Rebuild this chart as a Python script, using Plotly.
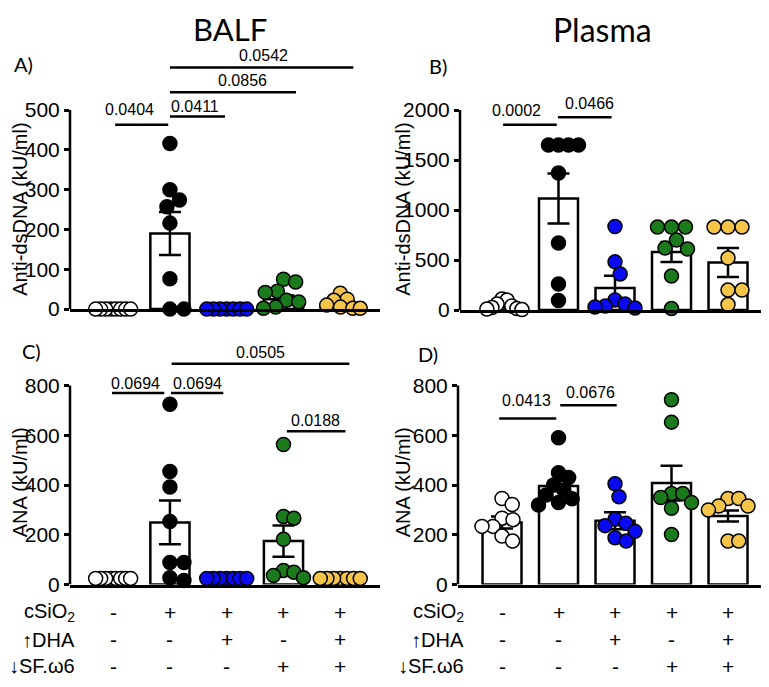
import plotly.graph_objects as go

# ---------------- data ----------------
groups = ["ctrl", "cSiO2", "cSiO2+DHA", "cSiO2+SF", "cSiO2+DHA+SF"]
row_csio2 = ["-", "+", "+", "+", "+"]
row_dha = ["-", "-", "+", "-", "+"]
row_sf = ["-", "-", "-", "+", "+"]
row_labels = ["cSiO<sub>2</sub>", "↑DHA", "↓SF.ω6"]

# Panel A: BALF anti-dsDNA (kU/ml)
balf_dsdna_pts = [
    [0, 0, 0, 0, 0, 0, 0, 0],
    [416, 300, 274, 257, 216, 76, 0, 0],
    [0, 0, 0, 0, 0, 0, 0],
    [75, 68, 45, 42, 22, 18, 5, 2],
    [40, 25, 22, 10, 5, 2, 2],
]
balf_dsdna_mean = [0, 190, 0, 25, 12]
balf_dsdna_sem = [0, 54, 0, 9, 6]

# Panel B: Plasma anti-dsDNA (kU/ml)
plasma_dsdna_pts = [
    [110, 100, 60, 40, 25, 15, 10, 5],
    [1650, 1650, 1650, 1650, 1370, 670, 260, 95],
    [836, 482, 361, 100, 60, 40, 30, 20],
    [830, 830, 830, 700, 620, 610, 340, 15],
    [830, 830, 830, 520, 200, 200, 55],
]
plasma_dsdna_mean = [42, 1115, 220, 580, 475]
plasma_dsdna_sem = [15, 250, 124, 100, 145]

# Panel C: BALF ANA (kU/ml)
balf_ana_pts = [
    [25, 25, 25, 25, 25, 25, 25, 25],
    [725, 455, 392, 254, 89, 89, 28, 17],
    [25, 25, 25, 25, 25, 25, 25],
    [563, 274, 267, 182, 57, 50, 37, 28],
    [25, 25, 25, 25, 25, 25, 25],
]
balf_ana_mean = [25, 250, 25, 175, 25]
balf_ana_sem = [0, 88, 0, 63, 0]

# Panel D: Plasma ANA (kU/ml)
plasma_ana_pts = [
    [346, 322, 267, 261, 234, 234, 195, 175],
    [590, 450, 430, 400, 380, 360, 345, 330, 320],
    [405, 353, 263, 247, 237, 214, 188, 175],
    [743, 653, 366, 366, 350, 330, 307, 201],
    [346, 346, 316, 316, 300, 175, 175],
]
plasma_ana_mean = [250, 396, 257, 408, 276]
plasma_ana_sem = [24, 20, 34, 70, 22]

# significance brackets: (label, x0, x1, y_line, x_text, y_text)
sig_a = [("0.0404", 0.035, 0.97, 463, 0.28, 502),
         ("0.0411", 1.0, 1.97, 484, 1.44, 509),
         ("0.0856", 1.0, 3.22, 545, 2.27, 574),
         ("0.0542", 1.0, 4.23, 607, 2.64, 638)]
sig_b = [("0.0002", 0.02, 0.97, 1852, 0.25, 2000),
         ("0.0466", 0.99, 1.94, 1928, 1.54, 2066)]
sig_c = [("0.0694", -0.02, 0.90, 770, 0.39, 807),
         ("0.0694", 1.02, 1.94, 770, 1.48, 807),
         ("0.0505", 1.03, 4.16, 888, 2.59, 932),
         ("0.0188", 3.06, 4.09, 616, 3.56, 659)]
sig_d = [("0.0413", -0.05, 0.96, 668, 0.44, 738),
         ("0.0676", 1.03, 2.03, 721, 1.56, 774)]

# ---------------- style / layout ----------------
W, H = 769, 687
OFF = 8  # page offset of the figure inside the browser body
FONT = "Liberation Sans, Arial, sans-serif"
TFONT = "Lato, Open Sans, sans-serif"
fills = ["white", "#000000", "#0a0af0", "#1b7a1b", "#f5c54a"]


def PX(x):
    return (x - OFF) / W


def PY(y):
    return 1 - (y - OFF) / H


panels = [
    dict(pts=balf_dsdna_pts, mean=balf_dsdna_mean, sem=balf_dsdna_sem, sig=sig_a,
         xd=(70, 380), xr=(-0.76, 4.70), y0px=314, ppu=202.3 / 500, ymax=500, R=700,
         ticks=[0, 100, 200, 300, 400, 500], title="Anti-dsDNA (kU/ml)",
         tx=20, ty=213, lab="A)", lx=23, ly=65),
    dict(pts=plasma_dsdna_pts, mean=plasma_dsdna_mean, sem=plasma_dsdna_sem, sig=sig_b,
         xd=(460, 767), xr=(-0.743, 4.69), y0px=315, ppu=203.3 / 2000, ymax=2000, R=2800,
         ticks=[0, 500, 1000, 1500, 2000], title="Anti-dsDNA (kU/ml)",
         tx=403, ty=213, lab="B)", lx=438, ly=67),
    dict(pts=balf_ana_pts, mean=balf_ana_mean, sem=balf_ana_sem, sig=sig_c,
         xd=(70, 380), xr=(-0.76, 4.70), y0px=594, ppu=202.3 / 800, ymax=800, R=1000,
         ticks=[0, 200, 400, 600, 800], title="ANA (kU/ml)",
         tx=20, ty=490, lab="C)", lx=31, ly=357),
    dict(pts=plasma_ana_pts, mean=plasma_ana_mean, sem=plasma_ana_sem, sig=sig_d,
         xd=(458, 767), xr=(-0.779, 4.69), y0px=594, ppu=202.3 / 800, ymax=800, R=1000,
         ticks=[0, 200, 400, 600, 800], title="ANA (kU/ml)",
         tx=403, ty=490, lab="D)", lx=428, ly=360),
]

MARK_D = 14.0


def swarm(vals, ppu_y, ppu_x, maxhalf=19.0):
    placed, offs = [], []
    for v in vals:
        y = v * ppu_y
        chosen = None
        k = 0
        while chosen is None:
            cands = [0.0] if k == 0 else [k * 0.5, -k * 0.5]
            for dx in cands:
                if all((dx - px) ** 2 + (y - py) ** 2 >= MARK_D ** 2 for px, py in placed):
                    chosen = dx
                    break
            k += 1
        placed.append((chosen, y))
        offs.append(chosen)
    m = max(abs(o) for o in offs)
    if m > maxhalf:
        offs = [o * maxhalf / m for o in offs]
    if len(set(vals)) == 1:
        c = (max(offs) + min(offs)) / 2
        offs = [o - c for o in offs]
    return [o / ppu_x for o in offs]


fig = go.Figure()
shapes, annotations = [], []
layout_axes = {}

for i, p in enumerate(panels):
    n = "" if i == 0 else str(i + 1)
    xa, ya = "x" + n, "y" + n
    xdom = [PX(p["xd"][0]), min(1.0, PX(p["xd"][1]))]
    top_px = p["y0px"] - p["R"] * p["ppu"]
    ydom = [PY(p["y0px"]), PY(top_px)]
    ppu_x = (p["xd"][1] - p["xd"][0]) / (p["xr"][1] - p["xr"][0])

    layout_axes["xaxis" + n] = dict(domain=xdom, range=list(p["xr"]), anchor=ya,
                                    showline=True, linecolor="black", linewidth=2.5,
                                    showticklabels=False, ticks="", showgrid=False,
                                    zeroline=False, fixedrange=True)
    layout_axes["yaxis" + n] = dict(domain=ydom, range=[0, p["R"]], anchor=xa,
                                    showline=False, ticks="outside", ticklen=5,
                                    tickwidth=2.5, tickcolor="black", tickvals=p["ticks"],
                                    ticktext=[str(t) for t in p["ticks"]],
                                    tickfont=dict(family=FONT, size=21, color="black"),
                                    showgrid=False, zeroline=False, fixedrange=True)

    fig.add_trace(go.Bar(x=list(range(5)), y=p["mean"], width=0.69, xaxis=xa, yaxis=ya,
                         marker=dict(color="white", line=dict(color="black", width=2.5)),
                         error_y=dict(type="data", array=p["sem"], symmetric=True,
                                      color="black", thickness=2.5, width=11),
                         cliponaxis=False, hoverinfo="skip"))

    for g in range(5):
        vals = p["pts"][g]
        offs = swarm(vals, p["ppu"], ppu_x, maxhalf=20.0)
        fig.add_trace(go.Scatter(x=[g + o for o in offs], y=vals, mode="markers",
                                 xaxis=xa, yaxis=ya, cliponaxis=False,
                                 marker=dict(size=MARK_D, color=fills[g],
                                             line=dict(color="black", width=1.5))))

    # y-axis line from 0 to last tick
    shapes.append(dict(type="line", xref=xa + " domain", yref=ya, x0=0, x1=0,
                       y0=0, y1=p["ymax"], line=dict(color="black", width=2.5)))

    for lab, x0, x1, yl, xt, yt in p["sig"]:
        shapes.append(dict(type="line", xref=xa, yref=ya, x0=x0, x1=x1, y0=yl, y1=yl,
                           line=dict(color="black", width=2.5)))
        annotations.append(dict(text=lab, xref=xa, yref=ya, x=xt, y=yt, showarrow=False,
                                font=dict(family=FONT, size=16, color="black"),
                                xanchor="center", yanchor="middle"))

    annotations.append(dict(text=p["title"], xref="paper", yref="paper",
                            x=PX(p["tx"]), y=PY(p["ty"]), textangle=-90,
                            showarrow=False, xanchor="center", yanchor="middle",
                            font=dict(family=FONT, size=20, color="black")))
    annotations.append(dict(text=p["lab"], xref="paper", yref="paper",
                            x=PX(p["lx"]), y=PY(p["ly"]), showarrow=False,
                            xanchor="center", yanchor="middle",
                            font=dict(family=TFONT, size=20, color="black")))

# column titles
annotations.append(dict(text="BALF", xref="paper", yref="paper", x=PX(230), y=1.0,
                        showarrow=False, xanchor="center", yanchor="top",
                        font=dict(family=TFONT, size=31, color="black")))
annotations.append(dict(text="Plasma", xref="paper", yref="paper", x=PX(602), y=1.0,
                        showarrow=False, xanchor="center", yanchor="top",
                        font=dict(family=TFONT, size=32, color="black")))

# treatment table under bottom panels
rows = [row_csio2, row_dha, row_sf]
row_y = [622, 650, 677]
for xa, label_x in (("x3", 77), ("x4", 466)):
    for r, (vals, yy) in enumerate(zip(rows, row_y)):
        annotations.append(dict(text=row_labels[r], xref="paper", yref="paper",
                                x=PX(label_x), y=PY(yy), showarrow=False,
                                xanchor="right", yanchor="middle",
                                font=dict(family=FONT, size=20, color="black")))
        for g, s in enumerate(vals):
            annotations.append(dict(text=s, xref=xa, yref="paper", x=g, y=PY(yy),
                                    showarrow=False, xanchor="center", yanchor="middle",
                                    font=dict(family=FONT, size=21, color="black")))

fig.update_layout(width=W, height=H, margin=dict(l=0, r=0, t=0, b=0),
                  paper_bgcolor="white", plot_bgcolor="white", showlegend=False,
                  barmode="overlay", shapes=shapes, annotations=annotations,
                  **layout_axes)

fig.write_html("out.html")
